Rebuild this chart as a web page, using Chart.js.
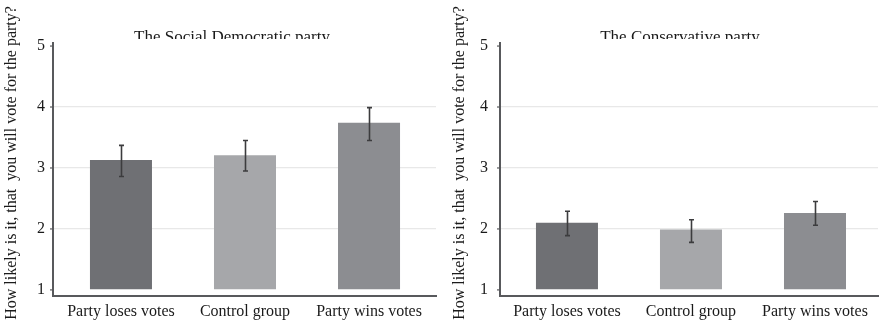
<!DOCTYPE html>
<html>
<head>
<meta charset="utf-8">
<script src="https://cdn.jsdelivr.net/npm/chart.js@4/dist/chart.umd.min.js"></script>
<style>
html,body{margin:0;padding:0;background:#fff;}
#wrap{position:relative;width:880px;height:322px;overflow:hidden;}
.panel{position:absolute;top:0;height:322px;}
</style>
</head>
<body>
<div id="wrap">
  <div class="panel" style="left:0;width:440px;"><canvas id="c1"></canvas></div>
  <div class="panel" style="left:440px;width:440px;"><canvas id="c2"></canvas></div>
</div>
<script>
const categories = ["Party loses votes", "Control group", "Party wins votes"];
const yTicks = [1, 2, 3, 4, 5];
const yTitle = "How likely is it, that  you will vote for the party?";

const titleSD = "The Social Democratic party";
const meansSD = [3.13, 3.21, 3.74];
const lowSD   = [2.86, 2.95, 3.45];
const highSD  = [3.37, 3.45, 3.99];

const titleCons = "The Conservative party";
const meansCons = [2.10, 1.99, 2.26];
const lowCons   = [1.89, 1.78, 2.06];
const highCons  = [2.29, 2.15, 2.45];

const barColors = ["#6f7074", "#a6a7aa", "#8c8d91"];
const SERIF = "'Liberation Serif', 'DejaVu Serif', serif";

function makeChart(id, title, means, lows, highs, opts) {
  const errPlugin = {
    id: 'decor',
    beforeDraw(chart) {
      const ctx = chart.ctx;
      ctx.save();
      ctx.beginPath();
      ctx.rect(0, 0, chart.width, opts.titleClip);
      ctx.clip();
      ctx.fillStyle = "#1a1a1a";
      ctx.font = "17px " + SERIF;
      ctx.textAlign = "center";
      ctx.textBaseline = "alphabetic";
      ctx.fillText(title, opts.titleX, opts.titleY);
      ctx.restore();
      ctx.save();
      ctx.translate(opts.yTitleX, opts.yTitleY);
      ctx.rotate(-Math.PI / 2);
      ctx.fillStyle = "#1a1a1a";
      ctx.font = "16px " + SERIF;
      ctx.textAlign = "center";
      ctx.textBaseline = "middle";
      ctx.fillText(yTitle, 0, 0);
      ctx.restore();
    },
    afterDatasetsDraw(chart) {
      const ctx = chart.ctx;
      const meta = chart.getDatasetMeta(0);
      const ys = chart.scales.y;
      ctx.save();
      ctx.strokeStyle = "#3c3c3e";
      ctx.lineWidth = 1.6;
      meta.data.forEach((bar, i) => {
        const x = Math.round(bar.x) + 0.5;
        const y1 = ys.getPixelForValue(lows[i]);
        const y2 = ys.getPixelForValue(highs[i]);
        ctx.beginPath();
        ctx.moveTo(x, y1); ctx.lineTo(x, y2);
        ctx.moveTo(x - 2.5, y1); ctx.lineTo(x + 2.5, y1);
        ctx.moveTo(x - 2.5, y2); ctx.lineTo(x + 2.5, y2);
        ctx.stroke();
      });
      ctx.restore();
    }
  };

  return new Chart(document.getElementById(id), {
    type: 'bar',
    data: {
      labels: categories,
      datasets: [{
        data: means,
        base: 1,
        backgroundColor: barColors,
        borderWidth: 0,
        categoryPercentage: 1,
        barPercentage: 0.5
      }]
    },
    options: {
      responsive: false,
      animation: false,
      devicePixelRatio: 1,
      layout: { padding: { top: 43, right: opts.padRight, left: 0, bottom: 0 } },
      plugins: { legend: { display: false }, tooltip: { enabled: false }, title: { display: false } },
      scales: {
        x: {
          grid: { display: false, drawTicks: false },
          border: { display: true, color: "#58595c", width: 2 },
          ticks: { color: "#1a1a1a", font: { family: SERIF, size: 16 }, padding: 6, maxRotation: 0, autoSkip: false },
          afterFit(s) {
            s.height = 26;
            s._startValue = opts.xStart;
            s._valueRange = opts.xRange;
          }
        },
        y: {
          min: 0.9, max: 5.05,
          afterBuildTicks(s) { s.ticks = yTicks.map(v => ({ value: v })); },
          grid: {
            color: (c) => (c.tick && (c.tick.value === 5 || c.tick.value === 1)) ? "rgba(0,0,0,0)" : "#e8e8e8",
            lineWidth: 1.2,
            drawTicks: false
          },
          border: { display: true, color: "#58595c", width: 2 },
          ticks: { color: "#1a1a1a", font: { family: SERIF, size: 16 }, padding: opts.tickPad },
          afterFit(s) { s.width = opts.axisW; }
        }
      }
    },
    plugins: [errPlugin, {
      id: 'tickmarks',
      afterDraw(chart) {
        const ctx = chart.ctx; const ys = chart.scales.y;
        const x = chart.chartArea.left;
        ctx.save(); ctx.strokeStyle = "#58595c"; ctx.lineWidth = 1.2;
        yTicks.forEach(v => {
          const y = ys.getPixelForValue(v);
          ctx.beginPath(); ctx.moveTo(x - 3, y); ctx.lineTo(x, y); ctx.stroke();
        });
        ctx.restore();
      }
    }]
  });
}

function setup(id) {
  const c = document.getElementById(id);
  c.width = 440; c.height = 322;
  c.style.width = "440px"; c.style.height = "322px";
}
setup("c1"); setup("c2");

makeChart("c1", titleSD, meansSD, lowSD, highSD,
  { padRight: 4, axisW: 53, tickPad: 8, titleX: 232, titleY: 42, titleClip: 39, yTitleX: 12, yTitleY: 163,
    xStart: -0.548, xRange: 3.088 });
makeChart("c2", titleCons, meansCons, lowCons, highCons,
  { padRight: 2, axisW: 60, tickPad: 12, titleX: 240, titleY: 42, titleClip: 39, yTitleX: 20, yTitleY: 163,
    xStart: -0.540, xRange: 3.048 });
</script>
</body>
</html>
